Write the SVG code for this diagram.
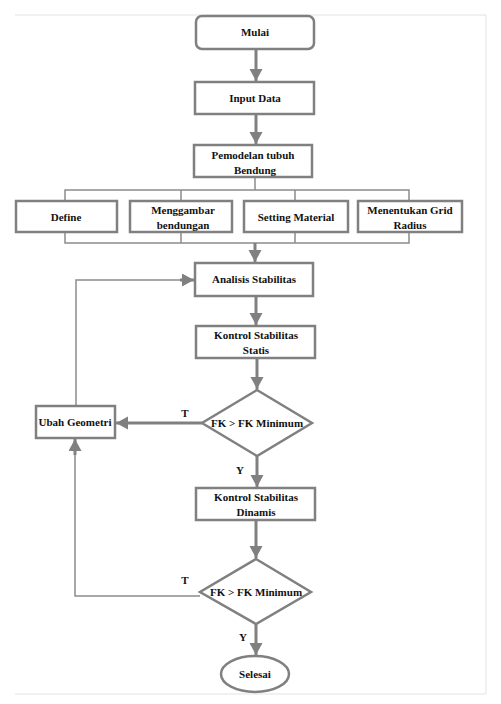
<svg xmlns="http://www.w3.org/2000/svg" width="501" height="704" viewBox="0 0 501 704">
<defs>
<marker id="ah" markerUnits="userSpaceOnUse" markerWidth="14" markerHeight="14" refX="12" refY="6.5" orient="auto">
<path d="M0,0 L12,6.5 L0,13 Z" fill="#808080"/>
</marker>
</defs>
<style>
.box{fill:#fff;stroke:#808080;stroke-width:2.5}
.t{font-family:"Liberation Serif","Times New Roman",serif;font-size:11px;font-weight:bold;fill:#111;text-anchor:middle}
.a{fill:none;stroke:#808080;stroke-width:3}
.thin{fill:none;stroke:#8c8c8c;stroke-width:1.5}
.frame{fill:none;stroke:#e3e3e3;stroke-width:1}
</style>
<rect width="501" height="704" fill="#fff"/>
<path class="frame" d="M15,15 H486 V694 H15"/>
<g id="connectors">
<line class="a" x1="256" y1="49" x2="256" y2="81" marker-end="url(#ah)"/>
<line class="a" x1="256" y1="114" x2="256" y2="144" marker-end="url(#ah)"/>
<path class="thin" d="M255,177 V190 M65,200 V190 H409 V200 M181,190 V200 M295,190 V200"/>
<path class="thin" d="M65,232 V243 H409 V232 M181,232 V243 M295,232 V243"/>
<line class="a" x1="255" y1="243" x2="255" y2="262" marker-end="url(#ah)"/>
<line class="a" x1="256" y1="296" x2="256" y2="325" marker-end="url(#ah)"/>
<line class="a" x1="257" y1="358" x2="257" y2="389" marker-end="url(#ah)"/>
<line class="a" x1="202" y1="423" x2="116" y2="423" marker-end="url(#ah)"/>
<path class="thin" d="M76,406 V280 H180" stroke-width="2"/>
<line class="a" x1="180" y1="280" x2="194" y2="280" marker-end="url(#ah)" stroke-width="1"/>
<line class="a" x1="257" y1="456" x2="257" y2="487" marker-end="url(#ah)"/>
<line class="a" x1="256" y1="520" x2="256" y2="558" marker-end="url(#ah)"/>
<path class="thin" d="M200,596 H75 V455" stroke-width="2"/>
<line class="a" x1="75" y1="455" x2="75" y2="439" marker-end="url(#ah)" stroke-width="1"/>
<line class="a" x1="256" y1="624" x2="256" y2="655" marker-end="url(#ah)"/>
<text class="t" x="185" y="417">T</text>
<text class="t" x="240" y="474">Y</text>
<text class="t" x="185" y="584">T</text>
<text class="t" x="243" y="641">Y</text>
</g>
<g id="mulai"><rect class="box" x="196" y="16" width="118" height="33" rx="6"/><text class="t" x="255" y="36">Mulai</text></g>
<g id="input"><rect class="box" x="195" y="82" width="119" height="32"/><text class="t" x="255" y="102">Input Data</text></g>
<g id="pemodelan"><rect class="box" x="194" y="145" width="118" height="32"/><text class="t" x="253" y="159">Pemodelan tubuh</text><text class="t" x="255" y="174">Bendung</text></g>
<g id="define"><rect class="box" x="16" y="201" width="101" height="31"/><text class="t" x="66" y="221">Define</text></g>
<g id="menggambar"><rect class="box" x="130" y="201" width="102" height="31"/><text class="t" x="183" y="214">Menggambar</text><text class="t" x="183" y="229">bendungan</text></g>
<g id="setting"><rect class="box" x="244" y="201" width="104" height="31"/><text class="t" x="296" y="221">Setting Material</text></g>
<g id="grid"><rect class="box" x="358" y="201" width="104" height="31"/><text class="t" x="410" y="214">Menentukan Grid</text><text class="t" x="410" y="229">Radius</text></g>
<g id="analisis"><rect class="box" x="195" y="263" width="118" height="33"/><text class="t" x="254" y="283">Analisis Stabilitas</text></g>
<g id="statis"><rect class="box" x="196" y="326" width="119" height="32"/><text class="t" x="256" y="339">Kontrol Stabilitas</text><text class="t" x="256" y="354">Statis</text></g>
<g id="fk1"><path class="box" d="M257,390 L312,423 L257,456 L202,423 Z"/><text class="t" x="257" y="427">FK &gt; FK Minimum</text></g>
<g id="ubah"><rect class="box" x="36" y="406" width="79" height="32"/><text class="t" x="75" y="426">Ubah Geometri</text></g>
<g id="dinamis"><rect class="box" x="196" y="488" width="119" height="32"/><text class="t" x="256" y="501">Kontrol Stabilitas</text><text class="t" x="256" y="516">Dinamis</text></g>
<g id="fk2"><path class="box" d="M256,559 L311,592 L256,624 L200,592 Z"/><text class="t" x="256" y="596">FK &gt; FK Minimum</text></g>
<g id="selesai"><ellipse class="box" cx="255" cy="674" rx="34" ry="18"/><text class="t" x="255" y="678">Selesai</text></g>
</svg>
